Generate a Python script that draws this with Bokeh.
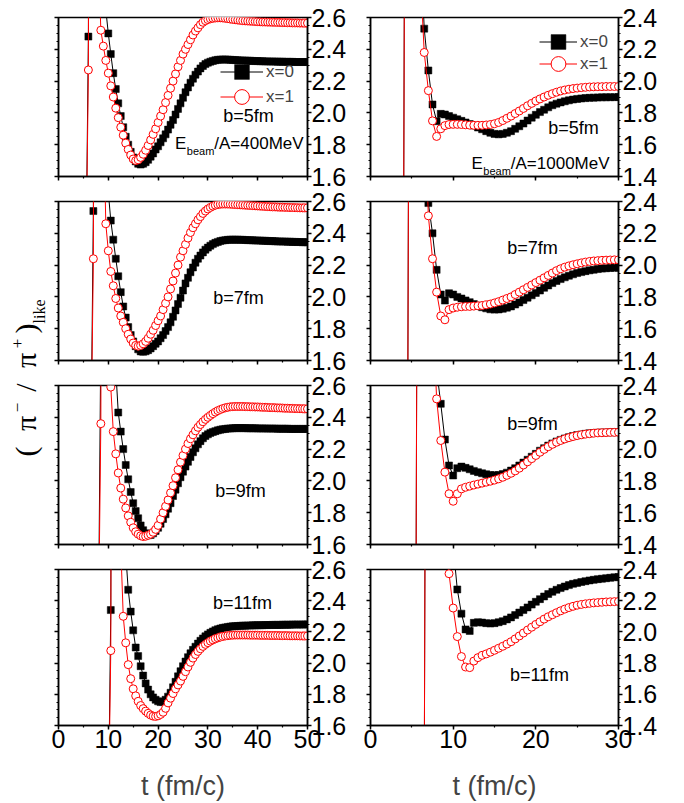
import numpy as np
from bokeh.plotting import figure
from bokeh.layouts import row, column
from bokeh.models import (ColumnDataSource, CustomJSTickFormatter, FixedTicker,
                          Label, Legend, LegendItem, LinearAxis,
                          PrintfTickFormatter, Range1d)
from bokeh.core.properties import value
from bokeh.embed import file_html
from bokeh.resources import INLINE

SANS = "Liberation Sans"
SERIF = "Liberation Serif"
DT = 0.5  # output interval of the transport run, fm/c

# ---------------- E_beam/A = 400 MeV (t from the first stored step) ----------------
T0_400 = {"b5": 5.5, "b7": 6.5, "b9": 8.0, "b11": 10.0}

e400_b5_x0 = [1.0, 2.48, 9.0, 8.0, 6.0, 4.5, 3.6, 3.0, 2.65,
              2.50, 2.37, 2.25, 2.15, 2.06, 1.98, 1.91, 1.85, 1.80, 1.755,
              1.72, 1.695, 1.68, 1.675, 1.68, 1.69, 1.705, 1.725, 1.745, 1.77,
              1.79, 1.815, 1.84, 1.865, 1.895, 1.925, 1.955, 1.99, 2.025, 2.06,
              2.095, 2.13, 2.16, 2.19, 2.215, 2.24, 2.26, 2.28, 2.295, 2.307,
              2.316, 2.322, 2.327, 2.331, 2.334, 2.335, 2.336, 2.336, 2.335, 2.334,
              2.333, 2.332, 2.331, 2.330, 2.330, 2.329, 2.328, 2.328, 2.327, 2.326,
              2.326, 2.325, 2.325, 2.324, 2.324, 2.323, 2.323, 2.323, 2.322, 2.322,
              2.322, 2.321, 2.321, 2.321, 2.321, 2.320, 2.320, 2.320, 2.320, 2.320, 2.320]
e400_b5_x1 = [1.0, 2.27, 8.0, 6.5, 4.5, 3.0, 2.52, 2.42, 2.33,
              2.25, 2.17, 2.10, 2.03, 1.97, 1.91, 1.86, 1.81, 1.77, 1.735,
              1.71, 1.70, 1.705, 1.72, 1.74, 1.765, 1.795, 1.83, 1.865, 1.90,
              1.94, 1.98, 2.02, 2.065, 2.11, 2.155, 2.20, 2.245, 2.29, 2.33,
              2.37, 2.40, 2.43, 2.46, 2.49, 2.515, 2.535, 2.555, 2.57, 2.58,
              2.587, 2.592, 2.595, 2.597, 2.598, 2.598, 2.597, 2.595, 2.593, 2.59,
              2.588, 2.586, 2.584, 2.582, 2.58, 2.579, 2.578, 2.577, 2.576, 2.575,
              2.574, 2.573, 2.572, 2.572, 2.571, 2.571, 2.570, 2.570, 2.569, 2.569,
              2.568, 2.568, 2.567, 2.567, 2.566, 2.566, 2.566, 2.565, 2.565, 2.565, 2.565]

e400_b7_x0 = [1.0, 2.54, 9.0, 8.0, 6.0, 4.5, 3.4,
              2.66, 2.48, 2.36, 2.24, 2.13, 2.03, 1.94, 1.87, 1.81, 1.76,
              1.72, 1.69, 1.67, 1.657, 1.655, 1.658, 1.665, 1.676, 1.69, 1.705,
              1.72, 1.74, 1.76, 1.785, 1.81, 1.84, 1.875, 1.915, 1.955, 1.995,
              2.04, 2.085, 2.12, 2.155, 2.185, 2.215, 2.24, 2.26, 2.28, 2.297,
              2.31, 2.322, 2.332, 2.34, 2.346, 2.351, 2.355, 2.357, 2.359, 2.36,
              2.36, 2.36, 2.36, 2.359, 2.359, 2.358, 2.357, 2.357, 2.356, 2.355,
              2.355, 2.354, 2.353, 2.353, 2.352, 2.351, 2.351, 2.35, 2.349, 2.349,
              2.348, 2.348, 2.347, 2.347, 2.346, 2.346, 2.345, 2.345, 2.344, 2.344, 2.344]
e400_b7_x1 = [1.0, 2.24, 8.0, 6.0, 4.5, 3.2, 2.46,
              2.29, 2.16, 2.07, 1.99, 1.93, 1.88, 1.84, 1.80, 1.765, 1.735,
              1.71, 1.695, 1.69, 1.695, 1.705, 1.72, 1.74, 1.765, 1.79, 1.82,
              1.85, 1.88, 1.92, 1.96, 2.00, 2.05, 2.10, 2.15, 2.20, 2.25,
              2.29, 2.33, 2.37, 2.405, 2.435, 2.46, 2.485, 2.505, 2.525, 2.54,
              2.553, 2.563, 2.571, 2.577, 2.581, 2.583, 2.584, 2.584, 2.584, 2.583,
              2.582, 2.581, 2.58, 2.579, 2.578, 2.577, 2.576, 2.575, 2.574, 2.573,
              2.572, 2.571, 2.570, 2.569, 2.568, 2.567, 2.566, 2.566, 2.565, 2.564,
              2.564, 2.563, 2.563, 2.562, 2.562, 2.561, 2.561, 2.560, 2.560, 2.560, 2.560]

e400_b9_x0 = [1.0, 2.9, 9.0, 8.0,
              6.0, 4.5, 3.4, 2.7, 2.43, 2.31, 2.2, 2.1, 2.01, 1.93,
              1.86, 1.81, 1.765, 1.72, 1.69, 1.67, 1.658, 1.66, 1.67, 1.685,
              1.705, 1.73, 1.76, 1.79, 1.825, 1.86, 1.905, 1.945, 1.985, 2.023,
              2.058, 2.09, 2.12, 2.15, 2.18, 2.205, 2.23, 2.25, 2.268, 2.282,
              2.293, 2.302, 2.308, 2.313, 2.318, 2.322, 2.325, 2.327, 2.329, 2.33,
              2.331, 2.332, 2.332, 2.332, 2.332, 2.332, 2.331, 2.331, 2.331, 2.331,
              2.330, 2.330, 2.330, 2.330, 2.329, 2.329, 2.329, 2.329, 2.328, 2.328,
              2.328, 2.328, 2.328, 2.327, 2.327, 2.327, 2.327, 2.327, 2.327, 2.327, 2.327]
e400_b9_x1 = [1.0, 2.36, 8.0, 7.0,
              3.5, 2.59, 2.31, 2.17, 2.05, 1.955, 1.885, 1.83, 1.78, 1.74,
              1.705, 1.68, 1.665, 1.655, 1.65, 1.652, 1.658, 1.665, 1.677, 1.695,
              1.72, 1.76, 1.80, 1.84, 1.88, 1.925, 1.97, 2.02, 2.07, 2.118,
              2.16, 2.20, 2.235, 2.265, 2.29, 2.315, 2.337, 2.355, 2.372, 2.387,
              2.40, 2.412, 2.423, 2.433, 2.442, 2.449, 2.455, 2.46, 2.463, 2.466,
              2.467, 2.468, 2.468, 2.468, 2.468, 2.467, 2.467, 2.466, 2.466, 2.465,
              2.465, 2.464, 2.463, 2.463, 2.462, 2.461, 2.461, 2.460, 2.459, 2.459,
              2.458, 2.457, 2.457, 2.456, 2.456, 2.455, 2.455, 2.454, 2.454, 2.453, 2.453]

e400_b11_x0 = [1.0, 2.34, 9.0, 8.5, 6.5, 4.5, 3.3, 2.7, 2.47, 2.33,
               2.21, 2.10, 2.045, 1.98, 1.92, 1.87, 1.83, 1.80, 1.78, 1.765,
               1.755, 1.75, 1.752, 1.765, 1.785, 1.81, 1.845, 1.88, 1.915, 1.948,
               1.98, 2.01, 2.038, 2.063, 2.085, 2.105, 2.125, 2.143, 2.158, 2.172,
               2.184, 2.194, 2.203, 2.211, 2.217, 2.222, 2.226, 2.229, 2.232, 2.234,
               2.236, 2.237, 2.238, 2.239, 2.24, 2.24, 2.241, 2.241, 2.242, 2.242,
               2.243, 2.243, 2.243, 2.244, 2.244, 2.244, 2.245, 2.245, 2.245, 2.245,
               2.246, 2.246, 2.246, 2.246, 2.247, 2.247, 2.247, 2.247, 2.247, 2.248, 2.248]
e400_b11_x1 = [1.0, 2.08, 9.0, 8.0, 5.0, 2.75, 2.30, 2.13, 1.99, 1.90,
               1.835, 1.79, 1.755, 1.728, 1.708, 1.692, 1.678, 1.667, 1.66, 1.658,
               1.662, 1.671, 1.685, 1.71, 1.745, 1.775, 1.805, 1.835, 1.86, 1.885,
               1.915, 1.945, 1.975, 2.005, 2.032, 2.055, 2.075, 2.092, 2.107, 2.12,
               2.131, 2.141, 2.149, 2.156, 2.162, 2.167, 2.171, 2.174, 2.176, 2.178,
               2.179, 2.18, 2.18, 2.18, 2.18, 2.18, 2.18, 2.179, 2.179, 2.179,
               2.179, 2.178, 2.178, 2.178, 2.178, 2.177, 2.177, 2.177, 2.177, 2.176,
               2.176, 2.176, 2.176, 2.175, 2.175, 2.175, 2.175, 2.174, 2.174, 2.174, 2.174]

# ---------------- E_beam/A = 1000 MeV ----------------
T0_1000 = {"b5": 4.0, "b7": 4.5, "b9": 5.5, "b11": 6.5}

e1000_b5_x0 = [1.0, 9.5, 8.5, 5.5,
               2.9, 2.33, 2.067, 1.853, 1.748, 1.794, 1.79, 1.78,
               1.77, 1.76, 1.75, 1.74, 1.73, 1.72, 1.708, 1.697, 1.685, 1.675,
               1.668, 1.665, 1.668, 1.675, 1.685, 1.70, 1.716, 1.733, 1.752, 1.77,
               1.788, 1.805, 1.82, 1.835, 1.848, 1.858, 1.866, 1.873, 1.879, 1.884,
               1.888, 1.891, 1.893, 1.895, 1.896, 1.897, 1.898, 1.898, 1.899, 1.899, 1.90]
e1000_b5_x1 = [1.0, 9.0, 8.0, 5.0,
               2.7, 2.18, 1.94, 1.75, 1.652, 1.70, 1.72, 1.727,
               1.728, 1.728, 1.727, 1.725, 1.723, 1.722, 1.722, 1.722, 1.724, 1.727,
               1.732, 1.74, 1.752, 1.766, 1.78, 1.796, 1.812, 1.828, 1.845, 1.86,
               1.875, 1.888, 1.90, 1.911, 1.921, 1.93, 1.938, 1.944, 1.949, 1.953,
               1.956, 1.959, 1.961, 1.963, 1.964, 1.965, 1.965, 1.966, 1.966, 1.966, 1.966]

e1000_b7_x0 = [1.0, 9.5, 8.5, 5.5, 3.5,
               2.39, 2.20, 1.97, 1.815, 1.777, 1.823,
               1.815, 1.80, 1.79, 1.778, 1.767, 1.755, 1.745, 1.735, 1.728, 1.722,
               1.72, 1.721, 1.725, 1.732, 1.74, 1.752, 1.765, 1.78, 1.795, 1.81,
               1.825, 1.84, 1.857, 1.872, 1.887, 1.90, 1.912, 1.923, 1.933, 1.942,
               1.95, 1.956, 1.962, 1.967, 1.971, 1.975, 1.978, 1.98, 1.982, 1.983, 1.984]
e1000_b7_x1 = [1.0, 9.0, 8.0, 5.0, 3.0,
               2.31, 2.04, 1.83, 1.68, 1.656, 1.72,
               1.73, 1.735, 1.738, 1.74, 1.74, 1.742, 1.744, 1.746, 1.75, 1.755,
               1.762, 1.77, 1.78, 1.79, 1.80, 1.815, 1.83, 1.845, 1.86, 1.875,
               1.89, 1.905, 1.92, 1.935, 1.95, 1.965, 1.977, 1.987, 1.995, 2.002,
               2.008, 2.014, 2.019, 2.023, 2.026, 2.028, 2.03, 2.031, 2.032, 2.033, 2.033]

e1000_b9_x0 = [1.0, 9.5, 8.5, 5.5, 3.2,
               2.5, 2.285, 2.06, 1.897,
               1.834, 1.88, 1.89, 1.882, 1.873, 1.863, 1.855, 1.848, 1.842, 1.837,
               1.835, 1.837, 1.843, 1.852, 1.865, 1.88, 1.897, 1.915, 1.933, 1.952,
               1.97, 1.99, 2.006, 2.022, 2.036, 2.048, 2.058, 2.067, 2.075, 2.082,
               2.088, 2.092, 2.096, 2.099, 2.101, 2.103, 2.104, 2.105, 2.106, 2.106, 2.107]
e1000_b9_x1 = [1.0, 9.0, 8.0, 5.0, 2.9,
               2.316, 2.054, 1.855, 1.719,
               1.672, 1.719, 1.75, 1.76, 1.767, 1.774, 1.78, 1.786, 1.792, 1.798,
               1.805, 1.813, 1.823, 1.835, 1.848, 1.863, 1.88, 1.90, 1.92, 1.94,
               1.96, 1.98, 1.998, 2.015, 2.03, 2.043, 2.054, 2.064, 2.072, 2.079,
               2.085, 2.09, 2.094, 2.097, 2.1, 2.102, 2.103, 2.104, 2.105, 2.105, 2.106]

e1000_b11_x0 = [1.0, 9.5, 8.5, 6.5, 5.0, 3.5, 3.0,
                2.55, 2.272, 2.117, 2.016, 2.006, 2.058, 2.062, 2.06, 2.056, 2.054,
                2.056, 2.062, 2.069, 2.08, 2.093, 2.108, 2.124, 2.14, 2.157, 2.175,
                2.193, 2.21, 2.227, 2.243, 2.257, 2.27, 2.281, 2.291, 2.30, 2.308,
                2.314, 2.32, 2.325, 2.33, 2.334, 2.338, 2.341, 2.344, 2.347, 2.35, 2.352]
e1000_b11_x1 = [1.0, 9.0, 8.0, 6.0, 4.5, 2.7, 2.373,
                2.153, 1.97, 1.842, 1.775, 1.771, 1.813, 1.835, 1.85, 1.859, 1.87,
                1.882, 1.895, 1.908, 1.922, 1.937, 1.955, 1.974, 1.993, 2.012, 2.03,
                2.048, 2.065, 2.082, 2.097, 2.11, 2.123, 2.135, 2.146, 2.156, 2.164,
                2.171, 2.176, 2.18, 2.183, 2.186, 2.188, 2.19, 2.192, 2.193, 2.194, 2.195]

# axis ticks
X_TICKS_400 = [0, 10, 20, 30, 40, 50]
X_TICKS_1000 = [0, 10, 20, 30]
Y_TICKS_400 = [1.6, 1.8, 2.0, 2.2, 2.4, 2.6]
Y_TICKS_1000 = [1.4, 1.6, 1.8, 2.0, 2.2, 2.4]

# vertical title pieces: text, position along the column (px from bottom),
# centre line (px from the left edge), font size
TITLE_TEXT = ["(", "\u03c0", "\u2212", "/", "\u03c0", "+", ")", "like"]
TITLE_POS = [352, 380, 396, 416, 443, 460, 475, 492]
TITLE_MID = [25, 25, 16.5, 25, 25, 16.5, 25, 38.5]
TITLE_SIZE = ["30px", "30px", "17px", "30px", "30px", "17px", "30px", "16px"]

# panel rows: canvases overlap by OVERLAP px (transparent borders), so the
# end tick labels of neighbouring panels each keep room on their own canvas
FRAME_H = 159
ROW_TOP = [17, 16, 16, 16]
ROW_BOTTOM = [16, 16, 16, 75]
OVERLAP = 7


def style_axis(ax, labels):
    ax.axis_line_width = 1.5
    ax.major_tick_line_width = 1.5
    ax.minor_tick_line_width = 1.2
    ax.major_tick_in = 0
    ax.major_tick_out = 4
    ax.minor_tick_in = 0
    ax.minor_tick_out = 2
    ax.major_label_text_font = SANS
    ax.major_label_text_color = "black"
    if labels:
        ax.major_label_text_font_size = "25px"
        ax.major_label_standoff = 0
    else:
        ax.formatter = CustomJSTickFormatter(code="return ''")
        ax.major_label_text_font_size = "0px"
        ax.major_label_standoff = 0


def panel(t0, ratio_x0, ratio_x1, xmax, xticks, yticks, r, left_col, b_text, b_pos):
    ylo, yhi = yticks[0], yticks[-1]
    width = 312 if left_col else 322
    p = figure(width=width, height=ROW_TOP[r] + FRAME_H + ROW_BOTTOM[r],
               x_range=Range1d(0, xmax), y_range=Range1d(ylo, yhi),
               toolbar_location=None, output_backend="svg",
               x_axis_location="below", y_axis_location="right",
               min_border_left=8, min_border_right=55 if left_col else 66,
               min_border_top=ROW_TOP[r], min_border_bottom=ROW_BOTTOM[r],
               margin=(0 if r == 0 else -OVERLAP, 0, 0, 0))
    p.border_fill_color = None
    p.background_fill_color = "white"
    p.outline_line_color = "black"
    p.outline_line_width = 1.5
    p.grid.visible = False

    p.add_layout(LinearAxis(), "left")
    yminor = [round(ylo + 0.05 * k, 3) for k in range(int(round((yhi - ylo) / 0.05)) + 1)]
    xminor = list(range(0, xmax + 1, 5))
    for ax in p.yaxis:
        ax.ticker = FixedTicker(ticks=yticks, minor_ticks=yminor)
    p.xaxis.ticker = FixedTicker(ticks=xticks, minor_ticks=xminor)

    right_ax = [a for a in p.yaxis if a in p.right][0]
    left_ax = [a for a in p.yaxis if a in p.left][0]
    right_ax.formatter = PrintfTickFormatter(format="%.1f")
    style_axis(right_ax, True)
    style_axis(left_ax, False)

    bottom_ax = p.xaxis[0]
    last_row = r == 3
    style_axis(bottom_ax, last_row)
    if last_row:
        bottom_ax.formatter = PrintfTickFormatter(format="%d")
        bottom_ax.axis_label = "t (fm/c)"
        bottom_ax.axis_label_text_font = SANS
        bottom_ax.axis_label_text_font_size = "27px"
        bottom_ax.axis_label_text_font_style = "normal"
        bottom_ax.axis_label_standoff = 20

    t_a = t0 + DT * np.arange(len(ratio_x0))
    t_b = t0 + DT * np.arange(len(ratio_x1))
    s0 = ColumnDataSource(dict(t=t_a, ratio=ratio_x0))
    s1 = ColumnDataSource(dict(t=t_b, ratio=ratio_x1))
    l0 = p.line("t", "ratio", source=s0, line_color="black", line_width=1)
    m0 = p.scatter("t", "ratio", source=s0, marker="square", size=7,
                   fill_color="black", line_color="black", line_width=0.5)
    l1 = p.line("t", "ratio", source=s1, line_color="red", line_width=1)
    m1 = p.scatter("t", "ratio", source=s1, marker="circle", size=8,
                   fill_color="white", line_color="red", line_width=1)

    p.add_layout(Label(x=b_pos[0], y=b_pos[1], x_units="screen", y_units="screen",
                       text=b_text, text_font=SANS, text_font_size="18px",
                       text_align="center", text_baseline="middle", text_color="black"))
    return p, (l0, m0, l1, m1)


def add_legend(p, rends, x, y_bottoms, glyph_w):
    l0, m0, l1, m1 = rends
    entries = [("x=0", [l0, m0]), ("x=1", [l1, m1])]
    for (name, rs), yb in zip(entries, y_bottoms):
        leg = Legend(items=[LegendItem(label=name, renderers=rs)],
                     location=(x, yb), glyph_width=glyph_w, glyph_height=37,
                     padding=0, margin=0, label_standoff=3,
                     label_text_font=SANS, label_text_font_size="17px",
                     background_fill_alpha=0, border_line_color=None)
        p.add_layout(leg)


def add_beam(p, x, y, energy):
    common = dict(x_units="screen", y_units="screen", text_font=SANS,
                  text_baseline="alphabetic", text_align="left", text_color="black")
    p.add_layout(Label(x=x, y=y, text="E", text_font_size="17px", **common))
    p.add_layout(Label(x=x + 11.8, y=y - 7, text="beam", text_font_size="11px", **common))
    p.add_layout(Label(x=x + 39.3, y=y, text=f"/A={energy}MeV", text_font_size="17px", **common))


left_specs = [("b5", e400_b5_x0, e400_b5_x1, "b=5fm", (190, 61)),
              ("b7", e400_b7_x0, e400_b7_x1, "b=7fm", (180, 63)),
              ("b9", e400_b9_x0, e400_b9_x1, "b=9fm", (182, 54)),
              ("b11", e400_b11_x0, e400_b11_x1, "b=11fm", (184, 123))]
right_specs = [("b5", e1000_b5_x0, e1000_b5_x1, "b=5fm", (203, 49)),
               ("b7", e1000_b7_x0, e1000_b7_x1, "b=7fm", (162, 113)),
               ("b9", e1000_b9_x0, e1000_b9_x1, "b=9fm", (162, 121)),
               ("b11", e1000_b11_x0, e1000_b11_x1, "b=11fm", (169, 51))]

left_figs, right_figs = [], []
for r, (key, a, b, txt, pos) in enumerate(left_specs):
    p, rends = panel(T0_400[key], a, b, 50, X_TICKS_400, Y_TICKS_400, r, True, txt, pos)
    if r == 0:
        add_legend(p, rends, 162, (86, 61), 43)
        add_beam(p, 116.5, 33, 400)
    left_figs.append(p)

for r, (key, a, b, txt, pos) in enumerate(right_specs):
    p, rends = panel(T0_1000[key], a, b, 30, X_TICKS_1000, Y_TICKS_1000, r, False, txt, pos)
    if r == 0:
        add_legend(p, rends, 169, (116, 94), 38)
        add_beam(p, 101, 13, 1000)
    right_figs.append(p)

# shared vertical title (pi-/pi+)_like, reading bottom to top; the strip's
# ranges equal its pixel size, so the coordinates below are pixels
title = figure(width=50, height=803, x_range=Range1d(0, 50), y_range=Range1d(0, 803),
               toolbar_location=None, output_backend="svg", min_border=0,
               x_axis_location=None, y_axis_location=None)
title.outline_line_color = None
title.grid.visible = False
title_src = ColumnDataSource(dict(x=TITLE_MID, y=TITLE_POS, text=TITLE_TEXT, size=TITLE_SIZE))
title.text(x="x", y="y", text="text", source=title_src, angle=np.pi / 2,
           text_font=value(SERIF), text_font_size="size", text_align="center",
           text_baseline="middle", text_color="black")

layout = row(title, column(*left_figs), column(*right_figs))

with open("out.html", "w") as f:
    f.write(file_html(layout, INLINE))
